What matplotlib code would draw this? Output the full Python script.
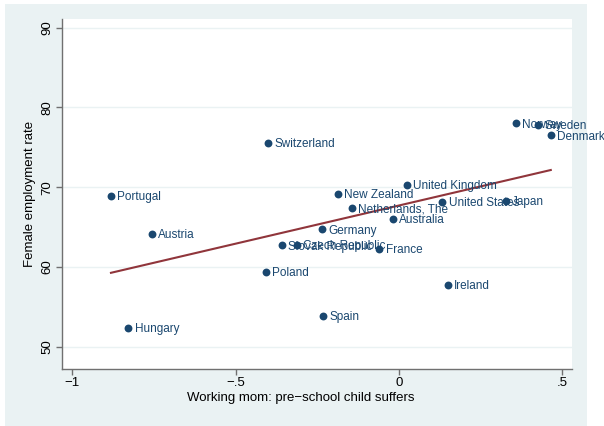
import numpy as np
import matplotlib
matplotlib.use("Agg")
import matplotlib.pyplot as plt
from matplotlib.patches import Rectangle

plt.rcParams['font.family'] = ['Liberation Sans', 'DejaVu Sans']

# datos
countries = ['Portugal', 'Austria', 'Hungary', 'Poland', 'Slovak Republic',
             'Czech Republic', 'Switzerland', 'Germany', 'Spain', 'France',
             'New Zealand', 'Netherlands, The', 'Australia', 'United Kingdom',
             'United States', 'Japan', 'Ireland', 'Norway', 'Sweden', 'Denmark']
mom_suffers = [-0.882, -0.757, -0.829, -0.407, -0.358,
               -0.312, -0.401, -0.235, -0.233, -0.060,
               -0.188, -0.145, -0.018, 0.024,
               0.133, 0.328, 0.150, 0.358, 0.426, 0.465]
female_emp = [68.9, 64.1, 52.4, 59.4, 62.7,
              62.8, 75.5, 64.7, 53.9, 62.3,
              69.2, 67.4, 66.0, 70.3,
              68.1, 68.3, 57.7, 78.0, 77.8, 76.5]

xticks = [-1, -0.5, 0, 0.5]
xtick_labels = ['\u22121', '\u2212.5', '0', '.5']
yticks = [50, 60, 70, 80, 90]

navy = '#1a476f'
maroon = '#90353b'
bg = '#eaf2f3'

fig = plt.figure(figsize=(6.04, 4.26), dpi=100, facecolor='white')
# fondo gris claro de la grafica
fig.patches.append(Rectangle((5 / 604, 0), 582 / 604, 422 / 426,
                             transform=fig.transFigure, facecolor=bg,
                             edgecolor='none', zorder=-10))

ax = fig.add_axes([62 / 604, 57 / 426, 510 / 604, 350 / 426])
ax.set_facecolor('white')

# recta de ajuste lineal
x = np.array(mom_suffers)
y = np.array(female_emp)
b, a = np.polyfit(x, y, 1)
xs = np.array([x.min(), x.max()])
ax.plot(xs, a + b * xs, color=maroon, lw=1.5, zorder=2)

# puntos y etiquetas de cada pais
ax.scatter(x, y, s=32, color=navy, zorder=3, linewidths=0)
for name, xi, yi in zip(countries, mom_suffers, female_emp):
    ax.annotate(name, (xi, yi), xytext=(4.5, -0.8), textcoords='offset points',
                ha='left', va='center', color=navy, fontsize=8.5, zorder=4,
                annotation_clip=False)

ax.set_xlim(-1.032, 0.530)
ax.set_ylim(47.2, 91.1)
ax.set_xticks(xticks)
ax.set_xticklabels(xtick_labels)
ax.set_yticks(yticks)
ax.set_yticklabels([str(t) for t in yticks], rotation=90, va='center')
ax.grid(axis='y', color=bg, lw=1, zorder=1)
ax.set_axisbelow(True)

for s in ['top', 'right']:
    ax.spines[s].set_visible(False)
for s in ['left', 'bottom']:
    ax.spines[s].set_color('#707070')
    ax.spines[s].set_linewidth(1)
ax.tick_params(axis='both', colors='#707070', labelcolor='black',
               labelsize=9.5, length=4, width=1, pad=2)

ax.set_xlabel('Working mom: pre\u2212school child suffers', fontsize=9.5, labelpad=2)
ax.xaxis.label.set_x(0.469)
ax.set_ylabel('Female employment rate', fontsize=9.5, labelpad=4)

fig.savefig('out.png', dpi=100, facecolor=fig.get_facecolor())
